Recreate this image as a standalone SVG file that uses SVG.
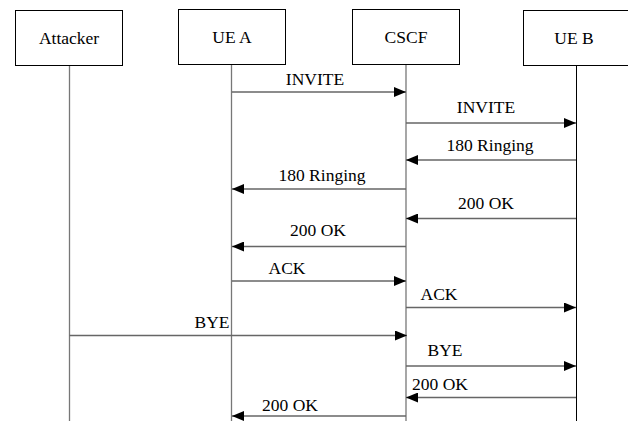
<svg xmlns="http://www.w3.org/2000/svg" width="628" height="421" viewBox="0 0 628 421">
<style>
.box{fill:#fff;stroke:#000;stroke-width:1}
.t{font-family:'Liberation Serif','DejaVu Serif','Times New Roman',Times,serif;font-size:17.5px;fill:#000;text-anchor:middle}
.life{stroke:#777;stroke-width:1.3}
.msg{stroke:#666;stroke-width:1.3;fill:none}
</style>
<defs>
<marker id="ah" viewBox="0 0 12 10" refX="12" refY="5" markerWidth="12" markerHeight="10" markerUnits="userSpaceOnUse" orient="auto">
<path d="M0,0 L12,5 L0,10 z" fill="#000"/>
</marker>
</defs>
<rect width="628" height="421" fill="#fff"/>
<g id="lifelines">
<line class="life" x1="69.5" y1="65" x2="69.5" y2="421"/>
<line class="life" x1="231.5" y1="64" x2="231.5" y2="421"/>
<line class="life" x1="406" y1="64" x2="406" y2="421"/>
<line x1="576.5" y1="65" x2="576.5" y2="421" stroke="#000" stroke-width="1"/>
</g>
<g id="attacker"><rect class="box" x="15.5" y="10.5" width="107" height="55"/><text class="t" x="69" y="44" font-family="Liberation Serif">Attacker</text></g>
<g id="uea"><rect class="box" x="178.5" y="9.5" width="107" height="55"/><text class="t" x="232" y="43">UE A</text></g>
<g id="cscf"><rect class="box" x="352.5" y="9.5" width="107" height="55"/><text class="t" x="406" y="43">CSCF</text></g>
<g id="ueb"><rect class="box" x="523.5" y="10.5" width="107" height="55"/><text class="t" x="574" y="44">UE B</text></g>
<g id="connectors">
<line class="msg" x1="232" y1="92" x2="406" y2="92" marker-end="url(#ah)"/>
<line class="msg" x1="406" y1="123" x2="576" y2="123" marker-end="url(#ah)"/>
<line class="msg" x1="576" y1="160" x2="406" y2="160" marker-end="url(#ah)"/>
<line class="msg" x1="406" y1="189" x2="232" y2="189" marker-end="url(#ah)"/>
<line class="msg" x1="576" y1="218.5" x2="406" y2="218.5" marker-end="url(#ah)"/>
<line class="msg" x1="406" y1="246.5" x2="232" y2="246.5" marker-end="url(#ah)"/>
<line class="msg" x1="232" y1="281" x2="406" y2="281" marker-end="url(#ah)"/>
<line class="msg" x1="406" y1="307.5" x2="576" y2="307.5" marker-end="url(#ah)"/>
<line class="msg" x1="69.5" y1="335.5" x2="407" y2="335.5" marker-end="url(#ah)"/>
<line class="msg" x1="406" y1="366" x2="576" y2="366" marker-end="url(#ah)"/>
<line class="msg" x1="576" y1="397.5" x2="406" y2="397.5" marker-end="url(#ah)"/>
<line class="msg" x1="406" y1="416" x2="232" y2="416" marker-end="url(#ah)"/>
</g>
<g id="labels">
<text class="t" x="315" y="85">INVITE</text>
<text class="t" x="486" y="113">INVITE</text>
<text class="t" x="490" y="150.5">180 Ringing</text>
<text class="t" x="322" y="181">180 Ringing</text>
<text class="t" x="486" y="209">200 OK</text>
<text class="t" x="318" y="236">200 OK</text>
<text class="t" x="287" y="274">ACK</text>
<text class="t" x="439" y="300">ACK</text>
<text class="t" x="212" y="328">BYE</text>
<text class="t" x="445" y="356">BYE</text>
<text class="t" x="440" y="390">200 OK</text>
<text class="t" x="290" y="410.5">200 OK</text>
</g>
</svg>
